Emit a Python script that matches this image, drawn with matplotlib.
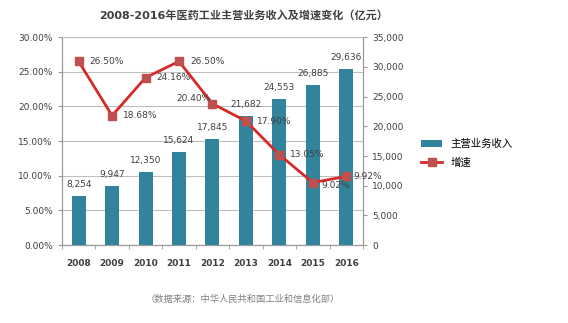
import matplotlib.pyplot as plt
from matplotlib.ticker import FuncFormatter, FixedLocator

plt.rcParams['font.family'] = ['DejaVu Sans', 'Noto Sans CJK SC']

years = ['2008', '2009', '2010', '2011', '2012', '2013', '2014', '2015', '2016']
revenue = [8254, 9947, 12350, 15624, 17845, 21682, 24553, 26885, 29636]
growth = [26.50, 18.68, 24.16, 26.50, 20.40, 17.90, 13.05, 9.02, 9.92]

bar_color = '#31849B'
line_color = '#D42A2A'
marker_color = '#C0504D'
text_color = '#404040'

fig = plt.figure(figsize=(5.68, 3.23), dpi=100)
ax = fig.add_axes([0.109, 0.241, 0.530, 0.644])
ax2 = ax.twinx()

x = list(range(len(years)))

# 柱状图：主营业务收入（右轴）
bars = ax2.bar(x, revenue, width=0.42, color=bar_color, zorder=2, label='主营业务收入')
for xi, v in zip(x, revenue):
    ax2.annotate(f'{v:,}', (xi, v), xytext=(0, 5), textcoords='offset points',
                 ha='center', va='bottom', fontsize=6.5, color=text_color)
ax2.set_ylim(0, 35000)
ax2.set_yticks(range(0, 35001, 5000))
ax2.yaxis.set_major_formatter(FuncFormatter(lambda v, p: f'{int(v):,}'))

# 折线：增速（左轴刻度）
ax.set_ylim(0, 30)
ax.set_yticks(range(0, 31, 5))
ax.yaxis.set_major_formatter(FuncFormatter(lambda v, p: f'{v:.2f}%'))
ax.grid(axis='y', color='#BFBFBF', linewidth=0.8)
ax.set_axisbelow(True)

ax3 = ax.twinx()
ax3.set_ylim(0, 30)
ax3.axis('off')
line, = ax3.plot(x, growth, color=line_color, linewidth=2, marker='s', markersize=6,
                 markerfacecolor=marker_color, markeredgecolor=marker_color, zorder=5, label='增速')

offsets = {4: (-1, 4, 'right', 'center'), 7: (6, -2, 'left', 'center'),
           8: (5, 0, 'left', 'center')}
for xi, g in zip(x, growth):
    dx, dy, ha, va = offsets.get(xi, (8, 0, 'left', 'center'))
    ax3.annotate(f'{g:.2f}%', (xi, g), xytext=(dx, dy), textcoords='offset points',
                 ha=ha, va=va, fontsize=6.5, color=text_color, zorder=6)

ax.set_xlim(-0.5, len(years) - 0.5)
ax.set_xticks(x)
ax.set_xticklabels(years, fontsize=6.5, color=text_color, fontweight='bold')
ax.xaxis.set_minor_locator(FixedLocator([i + 0.5 for i in range(-1, len(years))]))
ax.tick_params(axis='x', which='major', length=0, pad=10)
ax.tick_params(axis='x', which='minor', length=3, color='#999999')
ax.tick_params(axis='y', labelsize=6.5, labelcolor=text_color, length=3, color='#999999')
ax2.tick_params(axis='y', labelsize=6.5, labelcolor=text_color, length=3, color='#999999')

for a in (ax, ax2):
    for side in ('top', 'left', 'right', 'bottom'):
        a.spines[side].set_color('#999999')
        a.spines[side].set_linewidth(0.8)
ax.spines['top'].set_visible(False)
ax2.spines['top'].set_color('#BFBFBF')

fig.text(0.428, 0.952, '2008-2016年医药工业主营业务收入及增速变化（亿元）', ha='center', va='center',
         fontsize=8, fontweight='bold', color=text_color)
fig.text(0.428, 0.072, '（数据来源：中华人民共和国工业和信息化部）', ha='center', va='center',
         fontsize=6.7, color='#808080')

fig.legend(handles=[bars, line], loc='center left', bbox_to_anchor=(0.725, 0.525),
           frameon=False, fontsize=7.5, handlelength=2.0, labelspacing=0.8)

fig.savefig('out.png', dpi=100)
